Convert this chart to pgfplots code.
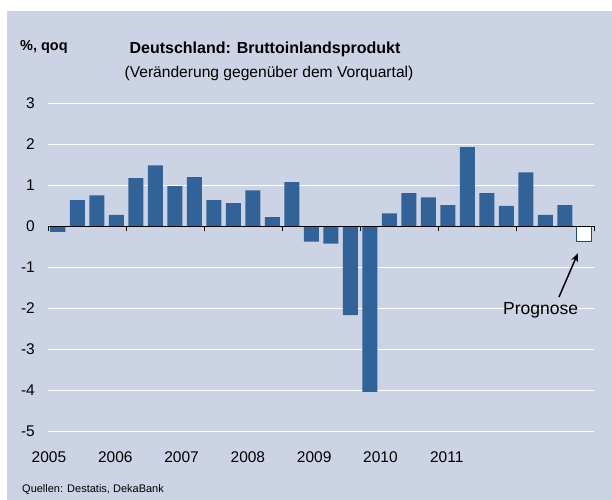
\documentclass[border=0pt]{standalone}
\usepackage{fontspec}
\setmainfont{Liberation Sans}
\usepackage{pgfplots}
\pgfplotsset{compat=1.18}
\usetikzlibrary{arrows.meta}
\definecolor{bg}{HTML}{CCD3E4}
\definecolor{barblue}{HTML}{316298}
\definecolor{navy}{HTML}{1F4A7A}
\begin{document}
\begin{tikzpicture}
\useasboundingbox (0bp,0bp) rectangle (612bp,500bp);
\fill[white] (0bp,0bp) rectangle (612bp,500bp);
\fill[bg] (7bp,0bp) rectangle (612bp,489bp);
\node[font=\fontsize{14.5bp}{17bp}\selectfont\bfseries, anchor=base west, inner sep=0pt] at (20bp,449.3bp) {\%, qoq};
\node[font=\fontsize{16bp}{19bp}\selectfont\bfseries, anchor=base, inner sep=0pt] at (265bp,446.7bp) {Deutschland: Bruttoinlandsprodukt};
\node[font=\fontsize{15.6bp}{19bp}\selectfont, anchor=base, inner sep=0pt] at (269bp,422.7bp) {(Veränderung gegenüber dem Vorquartal)};
\node[font=\fontsize{11bp}{13bp}\selectfont, anchor=base west, inner sep=0pt] at (22bp,8bp) {Quellen: Destatis, DekaBank};
\begin{axis}[
  at={(48bp,68.3bp)}, anchor=south west, scale only axis,
  width=546bp, height=328.4bp,
  xmin=0, xmax=28, ymin=-5, ymax=3,
  axis line style={draw=none},
  ytick={-5,-4,-3,-2,-1,0,1,2,3},
  ymajorgrids, grid style={white, line width=1.5bp},
  major tick length=0pt,
  xtick={0.05,3.45,6.85,10.25,13.65,17.05,20.45},
  xticklabels={2005,2006,2007,2008,2009,2010,2011},
  /pgf/number format/assume math mode=true,
  ticklabel style={font=\fontsize{15.5bp}{18bp}\selectfont},
  yticklabel style={anchor=east, inner sep=0pt, xshift=-13bp},
  xticklabel style={anchor=north, inner sep=0pt, yshift=-20bp},
  clip=false,
]
\addplot[ybar, bar width=15bp, fill=barblue, draw=none] coordinates {
(0.5,-0.13) (1.5,0.64) (2.5,0.76) (3.5,0.28)
(4.5,1.18) (5.5,1.49) (6.5,0.98) (7.5,1.20)
(8.5,0.64) (9.5,0.57) (10.5,0.88) (11.5,0.23)
(12.5,1.08) (13.5,-0.37) (14.5,-0.42) (15.5,-2.16)
(16.5,-4.03) (17.5,0.32) (18.5,0.81) (19.5,0.71)
(20.5,0.52) (21.5,1.93) (22.5,0.81) (23.5,0.50)
(24.5,1.32) (25.5,0.28) (26.5,0.52)
};
\addplot[ybar, bar width=15bp, fill=white, draw=navy, line width=1bp] coordinates {(27.5,-0.37)};
\end{axis}
\begin{axis}[
  at={(48bp,68.3bp)}, anchor=south west, scale only axis,
  width=546bp, height=328.4bp,
  xmin=0, xmax=28, ymin=-5, ymax=3,
  axis x line=middle, axis y line=none,
  x axis line style={-, black, line width=1bp},
  xtick={0,4,8,12,16,20,24,28}, xticklabels={},
  ytick=\empty,
  xtick align=outside, major tick length=5bp,
  tick style={black, line width=0.8bp},
]
\end{axis}
\node[font=\fontsize{17.5bp}{20bp}\selectfont, anchor=base west, inner sep=0pt] at (503bp,185bp) {Prognose};
\draw[line width=1.5bp, -{Stealth[length=9bp,width=7bp]}] (559bp,203bp) -- (578bp,247bp);
\end{tikzpicture}
\end{document}
